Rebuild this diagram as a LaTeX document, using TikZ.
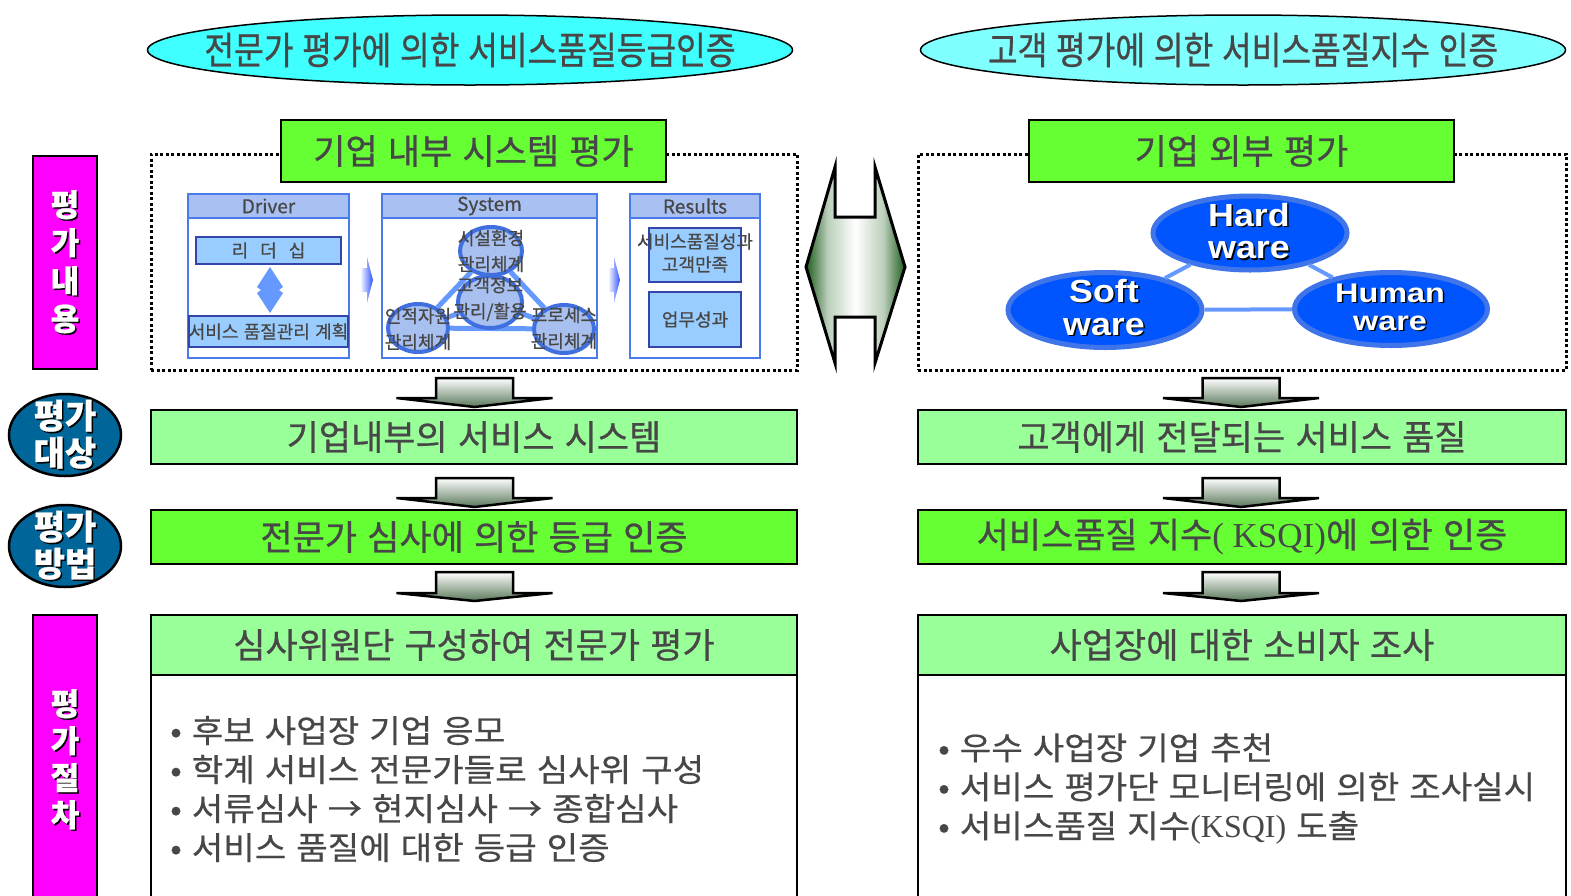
\documentclass[tikz,border=0pt]{standalone}
\usepackage{fontspec}
\setmainfont{Noto Sans CJK KR}[WordSpace=1.3, FakeBold=0.7]
\newfontfamily\titlef{Noto Sans CJK KR}[FakeStretch=0.85, WordSpace=1.2, FakeBold=0.7]
\newfontfamily\bulf{Noto Sans CJK KR}[FakeStretch=1.07, WordSpace=1.3, FakeBold=0.5]
\newfontfamily\lsansw{Liberation Sans}[FakeStretch=1.12]
\newfontfamily\lsanswide{Liberation Sans}[FakeStretch=1.2]
\newfontfamily\tnr{Liberation Serif}
\usetikzlibrary{shapes.geometric}
\definecolor{txt}{HTML}{474747}
\definecolor{cyanA}{HTML}{40FFFF}
\definecolor{cyanB}{HTML}{80FFFF}
\definecolor{mag}{HTML}{FF00FF}
\definecolor{tealb}{HTML}{006699}
\definecolor{lgreen}{HTML}{99FF99}
\definecolor{bgreen}{HTML}{66FF33}
\definecolor{panelb}{HTML}{4A7BEA}
\definecolor{headb}{HTML}{A9C0F2}
\definecolor{boxb}{HTML}{99CCFF}
\definecolor{boxbd}{HTML}{3344AA}
\definecolor{lineb}{HTML}{6699FF}
\definecolor{circf}{HTML}{A8C0F0}
\definecolor{circb}{HTML}{4070E0}
\definecolor{hwfill}{HTML}{0055FF}
\definecolor{hwbd}{HTML}{3F75E8}
\definecolor{dkg}{HTML}{1E5E1E}
\definecolor{arrg}{HTML}{5A785A}
\definecolor{smb}{HTML}{3355FF}
\pgfdeclarehorizontalshading{gwg}{100bp}{color(0bp)=(dkg); color(25bp)=(dkg); color(36bp)=(dkg!30!white); color(50bp)=(white); color(64bp)=(dkg!30!white); color(75bp)=(dkg); color(100bp)=(dkg)}
\newcommand\fsz[2]{\fontsize{#1}{#2}\selectfont}
\newcommand\shd[1]{\leavevmode\rlap{\hspace{1.5pt}\raisebox{-1.5pt}{\textcolor{black}{#1}}}#1}
\newcommand\dnarrow[4]{\draw[line width=2.5pt, top color=white, bottom color=arrg, line join=miter]
  (#1-38.5,#2) -- (#1+38.5,#2) -- (#1+38.5,#3) -- (#1+78,#3) -- (#1,#4) -- (#1-78,#3) -- (#1-38.5,#3) -- cycle;}
\tikzset{
  bx/.style={draw=black, line width=2.5pt, inner sep=0pt},
  lbl/.style={text=txt, inner sep=0pt},
  wlbl/.style={text=white, inner sep=0pt, align=center},
  panel/.style={draw=panelb, line width=2pt, fill=white, inner sep=0pt},
  phead/.style={draw=panelb, line width=2pt, fill=headb, inner sep=0pt, text=txt, font=\fsz{19}{22}},
  ibox/.style={draw=boxbd, line width=2pt, fill=boxb, inner sep=0pt},
  circ/.style={ellipse, draw=circb, line width=4pt, fill=circf, inner sep=0pt},
  hwell/.style={ellipse, draw=hwbd, line width=5pt, fill=hwfill, inner sep=0pt},
  dotbox/.style={draw=black, line width=3pt, dash pattern=on 3pt off 2.5pt, inner sep=0pt},
  smtxt/.style={text=txt, inner sep=0pt, align=center, font=\fsz{18}{26}},
  bigt/.style={text=txt, font=\fsz{35}{38}},
}
\begin{document}
\begin{tikzpicture}[x=1pt,y=-1pt]
\useasboundingbox (0,0) rectangle (1571,895);
% titles
\node[ellipse, draw=black, line width=1.5pt, fill=cyanA, minimum width=645pt, minimum height=70pt, inner sep=0pt] (t1) at (470,50) {};
\node[lbl, font=\titlef\fsz{38}{40}] (t1t) at (470,50) {전문가 평가에 의한 서비스품질등급인증};
\node[ellipse, draw=black, line width=1.5pt, fill=cyanB, minimum width=645pt, minimum height=70pt, inner sep=0pt] (t2) at (1243,50) {};
\node[lbl, font=\titlef\fsz{38}{40}] (t2t) at (1243,50) {고객 평가에 의한 서비스품질지수 인증};
% left labels
\node[bx, fill=mag, minimum width=64pt, minimum height=213pt] (lab1) at (65,262.5) {};
\node[wlbl, font=\bfseries\fsz{31}{38}] (lab1t) at (lab1) {\shd{평}\\\shd{가}\\\shd{내}\\\shd{용}};
\node[bx, ellipse, fill=tealb, minimum width=112pt, minimum height=82pt] (lab2) at (65,435) {};
\node[wlbl, font=\bfseries\fsz{34}{37}] (lab2t) at (lab2) {\shd{평가}\\\shd{대상}};
\node[bx, ellipse, fill=tealb, minimum width=112pt, minimum height=82pt] (lab3) at (65,546) {};
\node[wlbl, font=\bfseries\fsz{34}{37}] (lab3t) at (lab3) {\shd{평가}\\\shd{방법}};
\node[bx, fill=mag, minimum width=64pt, minimum height=284pt] (lab4) at (65,757) {};
\node[wlbl, font=\bfseries\fsz{31}{37}] (lab4t) at (65,760) {\shd{평}\\\shd{가}\\\shd{절}\\\shd{차}};
% dotted frames and headers
\node[dotbox, minimum width=646pt, minimum height=216pt] (dotL) at (474,262) {};
\node[dotbox, minimum width=648pt, minimum height=216pt] (dotR) at (1242,262) {};
\node[bx, fill=bgreen, minimum width=385pt, minimum height=62pt, bigt] (hdrL) at (473.5,151) {기업 내부 시스템 평가};
\node[bx, fill=bgreen, minimum width=425pt, minimum height=62pt, bigt] (hdrR) at (1241.5,151) {기업 외부 평가};
% Driver panel
\node[panel, minimum width=161pt, minimum height=164pt] (pDrv) at (268.5,276) {};
\node[phead, minimum width=161pt, minimum height=24pt] (hDrv) at (268.5,206) {Driver};
\node[ibox, minimum width=145pt, minimum height=27pt, text=txt, font=\fsz{18}{20}] (ldr) at (268.5,250.5) {리\,\,\,\,더\,\,\,\,십};
\node[ibox, minimum width=145pt, minimum height=31pt, text=txt, font=\fsz{18}{20}] (plan) at (268.5,331.5) {서비스 품질관리 계획};
\fill[lineb] (270,267) -- (283,287) -- (279,290) -- (283,293) -- (270,313) -- (257,293) -- (261,290) -- (257,287) -- cycle;
% System panel
\node[panel, minimum width=215pt, minimum height=164pt] (pSys) at (489.5,276) {};
\node[phead, minimum width=215pt, minimum height=24pt] (hSys) at (489.5,206) {System};
\node[circ, minimum width=62pt, minimum height=48pt] (cTop) at (491,251) {};
\node[circ, minimum width=60pt, minimum height=48pt] (cLft) at (418,328) {};
\node[circ, minimum width=60pt, minimum height=48pt] (cRgt) at (564,329) {};
\draw[lineb, line width=5pt] (cTop) -- (cLft);
\draw[lineb, line width=5pt] (cTop) -- (cRgt);
\draw[lineb, line width=5pt] (cLft) -- (cRgt);
\node[circ, minimum width=64pt, minimum height=52pt] (cMid) at (490,302) {};
\draw[lineb, line width=5pt] (cMid) -- (cLft);
\draw[lineb, line width=5pt] (cMid) -- (cRgt);
\node[smtxt] (cTopt) at (491,251) {시설환경\\관리체계};
\node[smtxt] (cMidt) at (490,299) {고객정보\\관리/활용};
\node[smtxt] (cLftt) at (418,329) {인적자원\\관리체계};
\node[smtxt] (cRgtt) at (564,328) {프로세스\\관리체계};
% Results panel
\node[panel, minimum width=130pt, minimum height=164pt] (pRes) at (695,276) {};
\node[phead, minimum width=130pt, minimum height=24pt] (hRes) at (695,206) {Results};
\node[ibox, minimum width=92pt, minimum height=54pt] (res1) at (695,255) {};
\node[smtxt, font=\fsz{18}{23}] (res1t) at (695,253) {서비스품질성과\\고객만족};
\node[ibox, minimum width=92pt, minimum height=55pt, text=txt, font=\fsz{18}{20}] (res2) at (695,319.5) {업무성과};
% small blue arrows
\shade[left color=white, right color=smb] (360,268) -- (367,268) -- (367,257) -- (373,280) -- (367,303) -- (367,292) -- (360,292) -- cycle;
\shade[left color=white, right color=smb] (608,268) -- (614,268) -- (614,257) -- (620,280) -- (614,303) -- (614,292) -- (608,292) -- cycle;
% central double arrow
\draw[line width=3pt, shading=gwg, line join=miter] (835,167) -- (835,217) -- (875,217) -- (875,167) -- (905,267) -- (875,363) -- (875,317) -- (835,317) -- (835,363) -- (806,267) -- cycle;
% hardware triangle
\node[hwell, minimum width=194pt, minimum height=74pt] (hw) at (1250,233) {};
\node[hwell, minimum width=194pt, minimum height=75pt] (sw) at (1105,310) {};
\node[hwell, minimum width=193pt, minimum height=73pt] (hu) at (1391,309) {};
\draw[lineb, line width=4pt] (hw) -- (sw);
\draw[lineb, line width=4pt] (hw) -- (hu);
\draw[lineb, line width=4pt] (sw) -- (hu);
\node[wlbl, font=\lsansw\bfseries\fsz{32}{32.5}] (hwt) at (1249,232) {\shd{Hard}\\\shd{ware}};
\node[wlbl, font=\lsansw\bfseries\fsz{32}{33}] (swt) at (1104,308) {\shd{Soft}\\\shd{ware}};
\node[wlbl, font=\lsanswide\bfseries\fsz{27}{28}] (hut) at (1390,308) {\shd{Human}\\\shd{ware}};
% down arrows
\dnarrow{474.5}{378}{398}{407}
\dnarrow{1241}{378}{398}{407}
\dnarrow{474.5}{478}{498}{507}
\dnarrow{1241}{478}{498}{507}
\dnarrow{474.5}{572}{593}{601}
\dnarrow{1241}{572}{593}{601}
% boxes
\node[bx, fill=lgreen, minimum width=646pt, minimum height=54pt, bigt] (sysL) at (474,437) {기업내부의 서비스 시스템};
\node[bx, fill=lgreen, minimum width=648pt, minimum height=54pt, bigt] (sysR) at (1242,437) {고객에게 전달되는 서비스 품질};
\node[bx, fill=bgreen, minimum width=646pt, minimum height=54pt, bigt] (metL) at (474,537) {전문가 심사에 의한 등급 인증};
\node[bx, fill=bgreen, minimum width=648pt, minimum height=54pt, bigt] (metR) at (1242,537) {서비스품질 지수{\tnr( KSQI)}에 의한 인증};
\node[bx, fill=white, minimum width=646pt, minimum height=226pt] (bodyL) at (474,788) {};
\node[bx, fill=white, minimum width=648pt, minimum height=226pt] (bodyR) at (1242,788) {};
\node[bx, fill=lgreen, minimum width=646pt, minimum height=60pt, bigt] (procL) at (474,645) {심사위원단 구성하여 전문가 평가};
\node[bx, fill=lgreen, minimum width=648pt, minimum height=60pt, bigt] (procR) at (1242,645) {사업장에 대한 소비자 조사};
\node[lbl, anchor=west, align=left, font=\bulf\fsz{32}{39}] (bulL) at (170,789) {• 후보 사업장 기업 응모\\• 학계 서비스 전문가들로 심사위 구성\\• 서류심사 → 현지심사 → 종합심사\\• 서비스 품질에 대한 등급 인증};
\node[lbl, anchor=west, align=left, font=\bulf\fsz{32}{39}] (bulR) at (938,789) {• 우수 사업장 기업 추천\\• 서비스 평가단 모니터링에 의한 조사실시\\• 서비스품질 지수{\tnr(KSQI)} 도출};
\end{tikzpicture}
\end{document}
